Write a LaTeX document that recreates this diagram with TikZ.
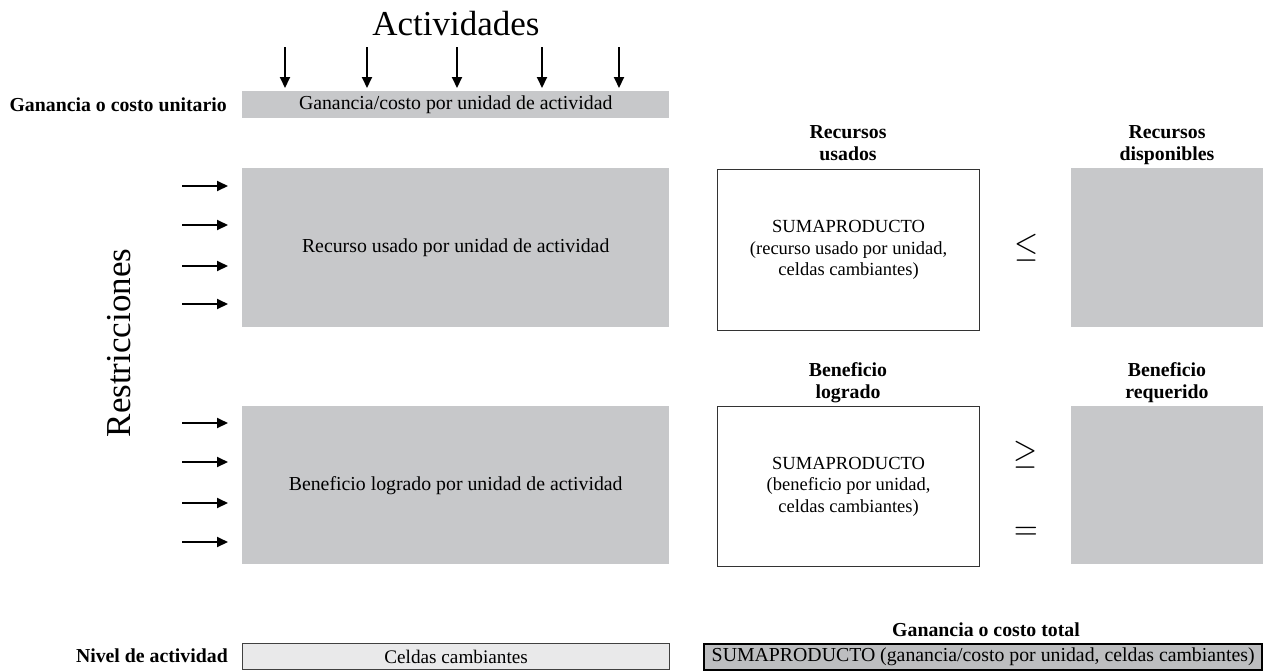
\documentclass[tikz,border=0pt]{standalone}
\usepackage{fontspec}
\setmainfont{Liberation Serif}
\usetikzlibrary{arrows.meta}

\definecolor{celda}{HTML}{C7C8CA}
\definecolor{celdaclara}{HTML}{E9E9EA}
\definecolor{celdatotal}{HTML}{BDBEC0}

\tikzset{
  gris/.style = {fill=celda, draw=none, inner sep=0pt, align=center, font=\fontsize{19.8}{23}\selectfont},
  blanco/.style = {draw=black!80, line width=1.2pt, fill=white, inner sep=0pt, align=center, font=\fontsize{18.5}{21.5}\selectfont},
  etiqueta/.style = {font=\fontsize{19.8}{22}\selectfont\bfseries, align=center, inner sep=0pt, text depth=0pt},
  titulo/.style = {font=\fontsize{35}{40}\selectfont},
  signo/.style = {xscale=3.1, yscale=3.5, inner sep=0pt},
  flecha/.style = {line width=2pt, -{Triangle[length=11pt,width=10pt]}}
}

\begin{document}
\begin{tikzpicture}[x=1pt, y=-1pt]
\useasboundingbox (0,0) rectangle (1263,670);

% actividades
\node[titulo] (act) at (456,24) {Actividades};
\node[gris, minimum width=427, minimum height=27, anchor=north west] (costo) at (242,91) {Ganancia/costo por unidad de actividad};
\node[etiqueta, anchor=base east] (lcosto) at (227,111) {Ganancia o costo unitario};
\foreach \x [count=\i] in {285,367,457,542,619} {
  \coordinate (a\i) at (\x,47);
  \draw[flecha, shorten >=3pt] (a\i) -- (a\i |- costo.north);
}

% restricciones
\node[titulo, rotate=90] (restr) at (119,343) {Restricciones};
\node[gris, minimum width=427, minimum height=159, anchor=north west] (rec) at (242,168) {Recurso usado por unidad de actividad};
\node[gris, minimum width=427, minimum height=158, anchor=north west] (ben) at (242,406) {Beneficio logrado por unidad de actividad};
\foreach \y in {186,225,266,304} {
  \coordinate (r\y) at (182,\y);
  \draw[flecha, shorten >=14pt] (r\y) -- (rec.west |- 0,\y);
}
\foreach \y in {423,462,503,542} {
  \coordinate (b\y) at (182,\y);
  \draw[flecha, shorten >=14pt] (b\y) -- (ben.west |- 0,\y);
}

% recursos
\node[blanco, minimum width=262, minimum height=161, anchor=north west] (usados) at (717,169) {SUMAPRODUCTO\\(recurso usado por unidad,\\celdas cambiantes)};
\node[etiqueta, anchor=south] (lusados) at (848,161) {Recursos\\usados};
\node[signo] (leq) at (1027,248) {$\leq$};
\node[gris, minimum width=192, minimum height=159, anchor=north west] (disp) at (1071,168) {};
\node[etiqueta, anchor=south] (ldisp) at (1167,161) {Recursos\\disponibles};

% beneficio
\node[blanco, minimum width=262, minimum height=160, anchor=north west] (logrado) at (717,406) {SUMAPRODUCTO\\(beneficio por unidad,\\celdas cambiantes)};
\node[etiqueta, anchor=south] (llogrado) at (848,399) {Beneficio\\logrado};
\node[signo] (geq) at (1026,455) {$\geq$};
\node[signo, yscale=0.95] (eq) at (1026,533) {$=$};
\node[gris, minimum width=192, minimum height=158, anchor=north west] (req) at (1071,406) {};
\node[etiqueta, anchor=south] (lreq) at (1167,399) {Beneficio\\requerido};

% nivel y total
\node[draw=black!75, line width=1.2pt, fill=celdaclara, minimum width=427, minimum height=26, inner sep=0pt, anchor=north west, font=\fontsize{19.2}{22}\selectfont] (celdas) at (242,643) {Celdas cambiantes};
\node[etiqueta, anchor=base east] (lnivel) at (228,662) {Nivel de actividad};
\node[draw=black, line width=2.4pt, fill=celdatotal, minimum width=558, minimum height=26, inner sep=0pt, anchor=north west, font=\fontsize{19.8}{23}\selectfont] (total) at (703,643) {SUMAPRODUCTO (ganancia/costo por unidad, celdas cambiantes)};
\node[etiqueta, anchor=south] (ltotal) at (986,637) {Ganancia o costo total};
\end{tikzpicture}
\end{document}
